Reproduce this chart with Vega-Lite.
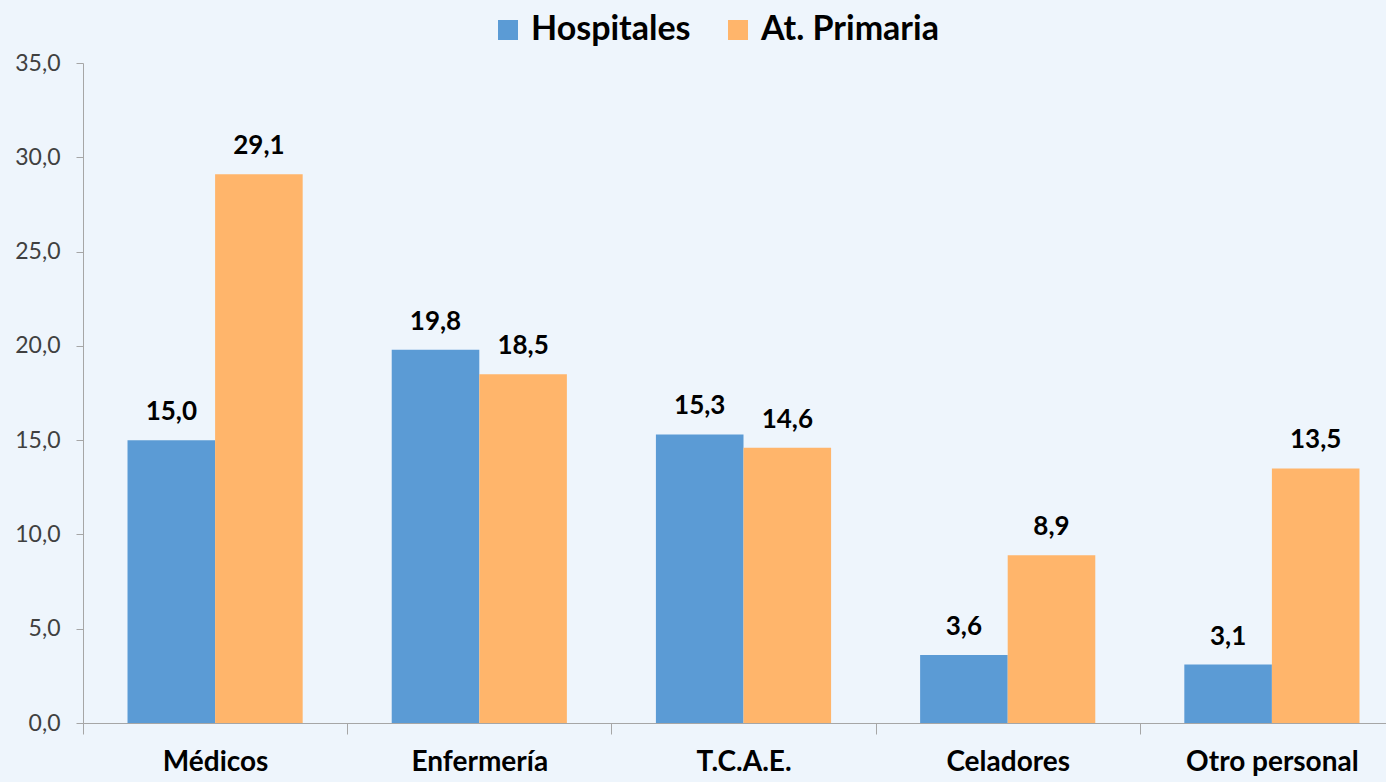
{
  "$schema": "https://vega.github.io/schema/vega-lite/v6.json",
  "width": 1321,
  "height": 660,
  "autosize": "none",
  "padding": {"left": 83, "top": 63, "right": 0, "bottom": 59},
  "background": "#eef5fc",
  "config": {
    "locale": {"number": {"decimal": ",", "thousands": ".", "grouping": [3], "currency": ["", " €"]}},
    "view": {"stroke": null},
    "font": "Lato"
  },
  "data": {
    "values": [
      {"categoria": "Médicos", "serie": "Hospitales", "valor": 15.0},
      {"categoria": "Médicos", "serie": "At. Primaria", "valor": 29.1},
      {"categoria": "Enfermería", "serie": "Hospitales", "valor": 19.8},
      {"categoria": "Enfermería", "serie": "At. Primaria", "valor": 18.5},
      {"categoria": "T.C.A.E.", "serie": "Hospitales", "valor": 15.3},
      {"categoria": "T.C.A.E.", "serie": "At. Primaria", "valor": 14.6},
      {"categoria": "Celadores", "serie": "Hospitales", "valor": 3.6},
      {"categoria": "Celadores", "serie": "At. Primaria", "valor": 8.9},
      {"categoria": "Otro personal", "serie": "Hospitales", "valor": 3.1},
      {"categoria": "Otro personal", "serie": "At. Primaria", "valor": 13.5}
    ]
  },
  "encoding": {
    "x": {
      "field": "categoria",
      "type": "nominal",
      "sort": ["Médicos", "Enfermería", "T.C.A.E.", "Celadores", "Otro personal"],
      "scale": {"paddingInner": 0.337, "paddingOuter": 0.1685},
      "axis": {
        "title": null,
        "labelAngle": 0,
        "labelFontSize": 28,
        "labelFontWeight": "bold",
        "labelColor": "#000000",
        "labelPadding": 14,
        "labelLimit": 300,
        "domainColor": "#a6a6a6",
        "tickColor": "#a6a6a6",
        "tickSize": 11,
        "tickOffset": -132.1,
        "labelOffset": 132.1
      }
    },
    "xOffset": {"field": "serie", "type": "nominal", "sort": ["Hospitales", "At. Primaria"], "scale": {"paddingInner": 0, "paddingOuter": 0}},
    "y": {
      "field": "valor",
      "type": "quantitative",
      "scale": {"domain": [0, 35], "nice": false},
      "axis": {
        "title": null,
        "values": [0, 5, 10, 15, 20, 25, 30, 35],
        "format": ".1f",
        "grid": false,
        "labelFontSize": 23,
        "labelColor": "#404040",
        "labelPadding": 16,
        "domainColor": "#a6a6a6",
        "tickColor": "#a6a6a6",
        "tickSize": 7
      }
    }
  },
  "layer": [
    {
      "mark": {"type": "bar"},
      "encoding": {
        "color": {
          "field": "serie",
          "type": "nominal",
          "scale": {"domain": ["Hospitales", "At. Primaria"], "range": ["#5b9bd5", "#ffb56b"]},
          "legend": {
            "title": null,
            "orient": "none",
            "direction": "horizontal",
            "legendX": 408,
            "legendY": -50,
            "symbolType": "square",
            "symbolSize": 400,
            "symbolStrokeWidth": 0,
            "symbolOpacity": 1,
            "labelFontSize": 34,
            "labelFontWeight": "bold",
            "labelColor": "#000000",
            "labelOffset": 6,
            "labelLimit": 400,
            "columnPadding": 30
          }
        }
      }
    },
    {
      "mark": {"type": "text", "baseline": "alphabetic", "dy": -20, "fontSize": 26, "fontWeight": "bold", "color": "#000000"},
      "encoding": {
        "text": {"field": "valor", "type": "quantitative", "format": ".1f"}
      }
    }
  ]
}
